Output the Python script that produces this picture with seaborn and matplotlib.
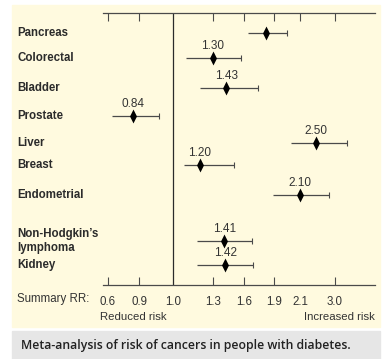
import numpy as np
import matplotlib
matplotlib.use("Agg")
import matplotlib.pyplot as plt
import matplotlib.transforms as mtransforms
from matplotlib.patches import Rectangle
import seaborn as sns
import pandas as pd

sns.set_style("white")
plt.rcParams['font.family'] = ['Liberation Sans', 'DejaVu Sans']

# Data
cancers = ['Pancreas', 'Colorectal', 'Bladder', 'Prostate', 'Liver', 'Breast',
           'Endometrial', 'Non-Hodgkin\u2019s\nlymphoma', 'Kidney']
rr = [1.82, 1.30, 1.43, 0.84, 2.50, 1.20, 2.10, 1.41, 1.42]
ci_low = [1.64, 1.10, 1.20, 0.64, 2.03, 1.08, 1.89, 1.18, 1.18]
ci_high = [2.00, 1.57, 1.74, 0.96, 3.30, 1.50, 2.85, 1.68, 1.69]
rr_labels = ['', '1.30', '1.43', '0.84', '2.50', '1.20', '2.10', '1.41', '1.42']
tick_vals = [0.6, 0.9, 1.0, 1.3, 1.6, 1.9, 2.1, 3.0]
tick_labels = ['0.6', '0.9', '1.0', '1.3', '1.6', '1.9', '2.1', '3.0']

# layout: row heights (pixel rows of the original figure) and the uneven axis spacing
rows = [33, 58, 88, 116, 143, 165, 195, 241, 265]
scale_vals = [0.5, 0.6, 0.9, 1.0, 1.3, 1.6, 1.9, 2.1, 3.0, 4.0]
scale_pos = [98, 108, 139, 173, 213, 244, 274, 300, 335, 375]

df = pd.DataFrame({'cancer': cancers, 'rr': rr, 'lo': ci_low, 'hi': ci_high, 'row': rows})

W, H = 386, 359
fig = plt.figure(figsize=(W / 100, H / 100), dpi=100)
fig.patch.set_facecolor('white')

# yellow panel and grey caption band
fig.patches.append(Rectangle((12 / W, 1 - 327 / H), 368 / W, 322 / H,
                             transform=fig.transFigure, color='#FFFADF', zorder=-1))
fig.patches.append(Rectangle((12 / W, 0), 368 / W, 28 / H,
                             transform=fig.transFigure, color='#E6E6E6', zorder=-1))

ax = fig.add_axes([103 / W, 1 - 285 / H, 272 / W, 272 / H])
ax.patch.set_alpha(0)
ax.set_xscale('function', functions=(lambda v: np.interp(v, scale_vals, scale_pos),
                                     lambda p: np.interp(p, scale_pos, scale_vals)))
ax.set_xlim(0.55, 4.0)
ax.set_ylim(285, 13)

dark = '#2b2b2b'
line_c = '#4a4a4a'

ax.hlines(df['row'], df['lo'], df['hi'], color=line_c, lw=0.9)
ax.plot(df['hi'], df['row'], ls='none', marker='|', ms=4, mew=0.8, color=line_c)
diamond = [(0, 1), (0.5, 0), (0, -1), (-0.5, 0), (0, 1)]
sns.scatterplot(data=df, x='rr', y='row', marker=diamond, s=100, color='black',
                edgecolor='black', linewidth=0, ax=ax, zorder=3, legend=False)

for v, r, lab in zip(rr, rows, rr_labels):
    if lab:
        ax.text(v, r - 12, lab, ha='center', va='center', fontsize=8.5, color='#333333')

ax.axvline(1.0, color=dark, lw=0.9)

for side in ['left', 'right']:
    ax.spines[side].set_visible(False)
for side in ['top', 'bottom']:
    ax.spines[side].set_color(line_c)
    ax.spines[side].set_linewidth(0.9)

ax.set_xticks(tick_vals)
ax.set_xticklabels(tick_labels)
ax.minorticks_off()
ax.set_yticks([])
ax.tick_params(axis='x', direction='in', top=True, bottom=True, length=6, width=0.8,
               color=line_c, labelsize=8.3, labelcolor='#333333', pad=8)
# the 1.0 tick is the reference line; 2.1 has no tick on the bottom edge
ax.xaxis.get_major_ticks()[2].tick1line.set_visible(False)
ax.xaxis.get_major_ticks()[2].tick2line.set_visible(False)
ax.xaxis.get_major_ticks()[6].tick1line.set_visible(False)
ax.set_xlabel('')
ax.set_ylabel('')

# category names down the left
trans = mtransforms.blended_transform_factory(fig.transFigure, ax.transData)
for name, r in zip(cancers, rows):
    ax.text(17 / W, r, name, transform=trans, ha='left', va='center', fontsize=8.3,
            fontweight='bold', color=dark, linespacing=1.15)

fig.text(17 / W, 1 - 299 / H, 'Summary RR:', ha='left', va='center', fontsize=8.3, color='#333333')
fig.text(100 / W, 1 - 317 / H, 'Reduced risk', ha='left', va='center', fontsize=8.2, color='#333333')
fig.text(375 / W, 1 - 317 / H, 'Increased risk', ha='right', va='center', fontsize=8.2, color='#333333')

fig.text(21 / W, 1 - 345 / H, 'Meta-analysis of risk of cancers in people with diabetes.',
         ha='left', va='center', fontsize=8.8, fontweight='semibold', color='#222222',
         family=['Open Sans', 'DejaVu Sans'])

fig.savefig('out.png', dpi=100)
